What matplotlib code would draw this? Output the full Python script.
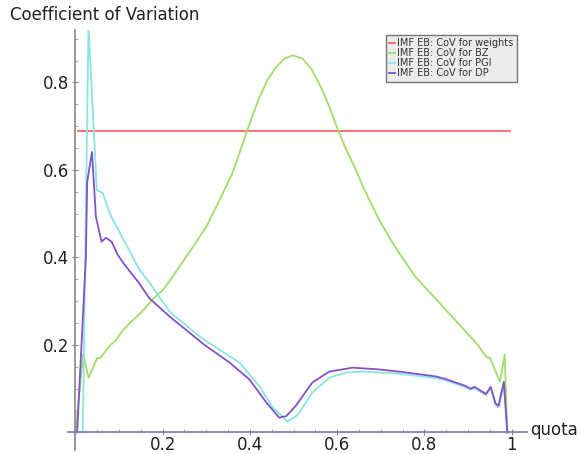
import numpy as np
import matplotlib
matplotlib.use("Agg")
import matplotlib.pyplot as plt
from matplotlib.ticker import MultipleLocator, FixedLocator

# valores
x_pesos = [0.005, 0.995]
y_pesos = [0.69, 0.69]

x_bz = [0, 0.018, 0.03, 0.05, 0.057, 0.08, 0.09, 0.11, 0.156, 0.178, 0.2, 0.22, 0.246,
        0.27, 0.3, 0.33, 0.36, 0.38, 0.394, 0.41, 0.422, 0.44, 0.46, 0.48, 0.498,
        0.52, 0.54, 0.56, 0.58, 0.6, 0.62, 0.643, 0.66, 0.696, 0.72, 0.742, 0.78,
        0.828, 0.897, 0.922, 0.943, 0.95, 0.973, 0.984, 0.99]
y_bz = [0, 0.18, 0.125, 0.17, 0.17, 0.2, 0.207, 0.235, 0.28, 0.305, 0.325, 0.352, 0.39,
        0.425, 0.47, 0.53, 0.593, 0.65, 0.691, 0.735, 0.766, 0.805, 0.835, 0.855, 0.862,
        0.855, 0.832, 0.795, 0.75, 0.696, 0.648, 0.6, 0.56, 0.486, 0.445, 0.41, 0.355,
        0.303, 0.228, 0.2, 0.171, 0.171, 0.116, 0.178, 0]

x_pgi = [0.017, 0.03, 0.049, 0.063, 0.079, 0.086, 0.102, 0.147, 0.17, 0.216, 0.285,
         0.33, 0.376, 0.422, 0.451, 0.486, 0.506, 0.513, 0.543, 0.582, 0.62, 0.657,
         0.735, 0.826, 0.849, 0.895, 0.905, 0.915, 0.941, 0.952, 0.963, 0.97, 0.982, 0.99]
y_pgi = [0, 0.93, 0.554, 0.547, 0.5, 0.486, 0.456, 0.372, 0.342, 0.276, 0.219,
         0.189, 0.16, 0.105, 0.059, 0.025, 0.037, 0.045, 0.091, 0.125, 0.137, 0.139,
         0.135, 0.124, 0.119, 0.103, 0.098, 0.101, 0.085, 0.101, 0.062, 0.057, 0.112, 0]

x_dp = [0.004, 0.024, 0.027, 0.038, 0.047, 0.06, 0.07, 0.083, 0.097, 0.113, 0.147,
        0.17, 0.216, 0.296, 0.353, 0.399, 0.438, 0.467, 0.483, 0.506, 0.543, 0.582,
        0.635, 0.696, 0.75, 0.826, 0.849, 0.895, 0.905, 0.915, 0.941, 0.952, 0.963,
        0.97, 0.982, 0.99]
y_dp = [0, 0.4, 0.572, 0.641, 0.493, 0.436, 0.445, 0.436, 0.406, 0.383, 0.34,
        0.306, 0.265, 0.2, 0.16, 0.121, 0.068, 0.034, 0.037, 0.062, 0.114, 0.139,
        0.148, 0.144, 0.138, 0.128, 0.122, 0.106, 0.1, 0.104, 0.088, 0.104, 0.066,
        0.061, 0.116, 0]

etiquetas = ["IMF EB: CoV for weights", "IMF EB: CoV for BZ",
             "IMF EB: CoV for PGI", "IMF EB: CoV for DP"]
colores = ["#ff6464", "#a2dc6a", "#8ae6df", "#8452c8"]

fig = plt.figure(figsize=(5.81, 4.54), dpi=100)
ax = fig.add_axes([0.117, 0.009, 0.79, 0.925])

series = [(x_pesos, y_pesos), (x_bz, y_bz), (x_pgi, y_pgi), (x_dp, y_dp)]
for (xs, ys), lab, col in zip(series, etiquetas, colores):
    ax.plot(xs, ys, color=col, lw=1.3, label=lab, solid_joinstyle="round")

ax.set_xlim(-0.017, 1.035)
ax.set_ylim(-0.04, 0.92)

# estilo de ejes tipo Sage
for s in ["top", "right"]:
    ax.spines[s].set_visible(False)
ax.spines["left"].set_position(("data", 0))
ax.spines["bottom"].set_position(("data", 0))
ax.spines["left"].set_color("#888888")
ax.spines["bottom"].set_color("#7c74b4")
ax.spines["left"].set_linewidth(1.2)
ax.spines["bottom"].set_linewidth(1.2)

ax.xaxis.set_major_locator(FixedLocator([0.2, 0.4, 0.6, 0.8, 1.0]))
ax.yaxis.set_major_locator(FixedLocator([0.2, 0.4, 0.6, 0.8]))
ax.xaxis.set_minor_locator(MultipleLocator(0.05))
ax.yaxis.set_minor_locator(MultipleLocator(0.05))
ax.set_xticklabels(["0.2", "0.4", "0.6", "0.8", "1"])
ax.set_yticklabels(["0.2", "0.4", "0.6", "0.8"])
ax.tick_params(which="major", direction="inout", length=5, width=0.8,
               color="#888888", labelsize=12, labelcolor="#222222", pad=2)
ax.tick_params(axis="x", which="major", pad=0)
ax.tick_params(which="minor", direction="in", length=2.5, width=0.6, color="#999999")

fig.text(0.017, 0.967, "Coefficient of Variation", fontsize=12, color="#222222",
         va="center", ha="left")
fig.text(0.912, 0.052, "quota", fontsize=12, color="#222222", va="center", ha="left")

leg = ax.legend(loc="upper right", bbox_to_anchor=(0.978, 0.988), borderaxespad=0,
                fontsize=7, handlelength=0.6, handletextpad=0.2, labelspacing=0.0,
                borderpad=0.35, fancybox=False, framealpha=1)
leg.get_frame().set_facecolor("#ebebeb")
leg.get_frame().set_edgecolor("#777777")
leg.get_frame().set_linewidth(1.0)
for t in leg.get_texts():
    t.set_color("#333333")

fig.savefig("out.png", dpi=100)
